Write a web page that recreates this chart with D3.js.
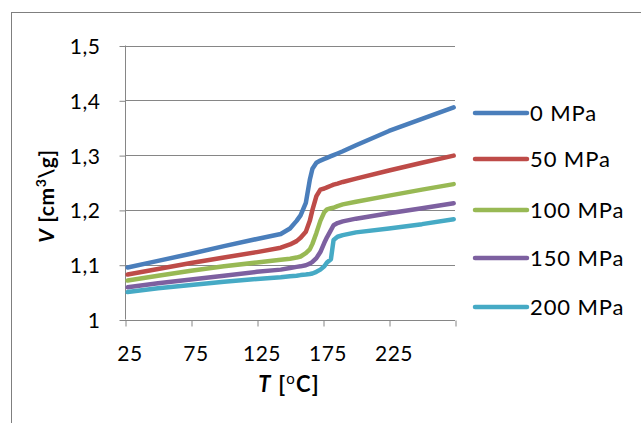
<!DOCTYPE html>
<html><head><meta charset="utf-8">
<script src="https://cdn.jsdelivr.net/npm/d3@7"></script>
<style>body{margin:0;background:#fff}svg{display:block}</style>
</head><body>
<svg id="c" width="641" height="423"></svg>
<script>
const temperatures = [27, 50, 75, 100, 125, 143, 150, 155, 158, 162, 165, 167, 170, 173, 176, 178, 181, 183, 186, 190, 200, 225, 250, 274];
const v0   = [1.095,1.107,1.120,1.134,1.147,1.156,1.166,1.180,1.190,1.213,1.255,1.275,1.286,1.290,1.293,1.295,1.298,1.300,1.303,1.307,1.318,1.344,1.366,1.387];
const v50  = [1.082,1.092,1.103,1.113,1.123,1.131,1.137,1.143,1.149,1.160,1.180,1.200,1.225,1.237,1.239,1.241,1.244,1.246,1.248,1.251,1.257,1.272,1.286,1.299];
const v100 = [1.071,1.080,1.089,1.097,1.104,1.109,1.111,1.113,1.115,1.121,1.128,1.138,1.158,1.180,1.196,1.201,1.203,1.204,1.207,1.210,1.215,1.226,1.237,1.247];
const v150 = [1.059,1.066,1.073,1.080,1.087,1.091,1.094,1.096,1.097,1.099,1.102,1.105,1.112,1.123,1.140,1.150,1.163,1.172,1.176,1.179,1.184,1.194,1.203,1.212];
const v200 = [1.050,1.057,1.063,1.069,1.074,1.077,1.079,1.080,1.081,1.082,1.083,1.084,1.087,1.091,1.097,1.104,1.110,1.145,1.151,1.154,1.159,1.166,1.174,1.183];
const seriesNames = ["0 MPa","50 MPa","100 MPa","150 MPa","200 MPa"];
const seriesColors = ["#4A7EBB","#BE4B48","#98B954","#7D60A0","#46AAC5"];
const xTicks = [25, 75, 125, 175, 225, 275];
const xTickLabels = ["25","75","125","175","225",""];
const yTicks = [1, 1.1, 1.2, 1.3, 1.4, 1.5];
const yTickLabels = ["1","1,1","1,2","1,3","1,4","1,5"];

const allSeries = [v0, v50, v100, v150, v200];
const svg = d3.select("#c");
const font = "Lato, 'Noto Sans', sans-serif";

// outer frame
svg.append("rect").attr("x",11.5).attr("y",12.5).attr("width",700).attr("height",500)
  .attr("fill","none").attr("stroke","#7f7f7f").attr("stroke-width",1);

const x = d3.scaleLinear().domain([25, 275]).range([125, 455]);
const y = d3.scaleLinear().domain([1, 1.5]).range([319.5, 45.5]);

// gridlines
svg.append("g").selectAll("line").data(yTicks.slice(1)).join("line")
  .attr("x1",125).attr("x2",455).attr("y1",d=>Math.round(y(d))+0.5).attr("y2",d=>Math.round(y(d))+0.5)
  .attr("stroke","#868686").attr("stroke-width",1);

// y axis
const ya = svg.append("g").attr("transform","translate(125.5,0.5)")
  .call(d3.axisLeft(y).tickValues(yTicks).tickSize(6).tickFormat((d,i)=>yTickLabels[i]).tickPadding(19));
ya.select(".domain").attr("stroke","#868686").attr("d","M0,"+(y(1.5)-0.5)+"V"+(y(1)-0.5));
ya.selectAll(".tick line").attr("stroke","#868686");
ya.selectAll(".tick text").attr("font-family",font).attr("font-size",21).attr("fill","#000")
  .attr("dy","0.36em").attr("letter-spacing",0.5);

// x axis
const xa = svg.append("g").attr("transform","translate(0.5,"+(Math.round(y(1))+0.5)+")")
  .call(d3.axisBottom(x).tickValues(xTicks).tickSize(6).tickFormat((d,i)=>xTickLabels[i]).tickPadding(20));
xa.select(".domain").attr("stroke","#868686").attr("d","M"+(x(25)-0.5)+",0H"+(x(275)-0.5));
xa.selectAll(".tick line").attr("stroke","#868686");
xa.selectAll(".tick text").attr("font-family",font).attr("font-size",21).attr("fill","#000")
  .attr("dx","4").attr("letter-spacing",0.5);

// lines
const line = d3.line().x((d,i)=>x(temperatures[i])).y(d=>y(d));
svg.append("g").selectAll("path").data(allSeries).join("path")
  .attr("d", d=>line(d)).attr("fill","none")
  .attr("stroke",(d,i)=>seriesColors[i]).attr("stroke-width",4.5)
  .attr("stroke-linejoin","round").attr("stroke-linecap","round");

// legend
const legendY = [113, 159, 210, 258, 307];
const lg = svg.append("g").selectAll("g").data(seriesNames).join("g")
  .attr("transform",(d,i)=>"translate(0,"+legendY[i]+")");
lg.append("line").attr("x1",475).attr("x2",527).attr("y1",0).attr("y2",0)
  .attr("stroke",(d,i)=>seriesColors[i]).attr("stroke-width",4.5).attr("stroke-linecap","round");
lg.append("text").attr("x",530).attr("y",8).attr("font-family",font).attr("font-size",22)
  .attr("letter-spacing",0.9).attr("fill","#000").text(d=>d);

// axis titles
const xt = svg.append("text").attr("x",289).attr("y",392).attr("text-anchor","middle")
  .attr("font-family",font).attr("font-size",22).attr("font-weight","bold").attr("fill","#000")
  .attr("letter-spacing",1.2);
xt.append("tspan").attr("font-style","italic").text("T");
xt.append("tspan").text(" [");
xt.append("tspan").attr("font-size",15).attr("font-weight","normal").attr("dy",-8).text("o");
xt.append("tspan").attr("dy",8).text("C]");

const yt = svg.append("text").attr("transform","translate(54,196) rotate(-90)").attr("text-anchor","middle")
  .attr("font-family",font).attr("font-size",21).attr("font-weight","bold").attr("fill","#000")
  .attr("letter-spacing",0.6);
yt.append("tspan").attr("font-style","italic").text("V");
yt.append("tspan").text(" [cm");
yt.append("tspan").attr("font-size",14).attr("dy",-8).text("3");
yt.append("tspan").attr("dy",8).text("\\g]");
</script>
</body></html>
